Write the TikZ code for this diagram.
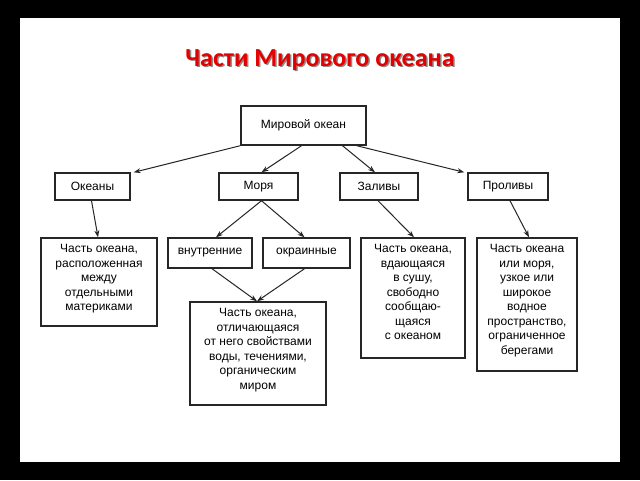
\documentclass[tikz,border=0pt]{standalone}
\usepackage{fontspec}
\setmainfont{Liberation Sans}
\newfontfamily\titlefont{Carlito}
\usetikzlibrary{calc,arrows.meta}
\begin{document}
\begin{tikzpicture}[x=1pt,y=-1pt,
  bx/.style={draw=black!85,line width=1.4pt,fill=white,inner sep=0pt,align=center,
    font=\fontsize{12}{14.5}\selectfont},
  tx/.style={inner sep=0pt,align=center,anchor=north,font=\fontsize{12}{14.5}\selectfont},
  arr/.style={-{Stealth[length=7pt,width=5pt]},line width=1pt,black!85}]
\fill[black] (0,0) rectangle (640,480);
\fill[white] (20,18) rectangle (620,462);
\useasboundingbox (0,0) rectangle (640,480);
\node[text=black!45,font=\titlefont\bfseries\fontsize{26}{30}\selectfont] at (321.5,61.5) {Части Мирового океана};
\node (title) [text=red!90!black,font=\titlefont\bfseries\fontsize{26}{30}\selectfont] at (320,60) {Части Мирового океана};
\newcommand\bxn[6]{\node (#1) [bx,minimum width=#4-#2,minimum height=#5-#3] at ({(#2+#4)/2},{(#3+#5)/2}) {#6};}
\newcommand\bxt[6]{\node (#1) [bx,minimum width=#4-#2,minimum height=#5-#3] at ({(#2+#4)/2},{(#3+#5)/2}) {};
  \node (#1t) [tx] at ($(#1.north)+(0,7)$) {#6};}
\bxn{mo}{241}{106}{366}{145}{Мировой океан}
\bxn{ok}{55}{173}{130}{200}{Океаны}
\bxn{mr}{219}{173}{298}{200}{Моря}
\bxn{za}{340}{173}{418}{200}{Заливы}
\bxn{pr}{468}{173}{548}{200}{Проливы}
\bxt{okd}{41}{238}{157}{326}{Часть океана,\\расположенная\\между\\отдельными\\материками}
\bxn{vn}{168}{238}{252}{268}{внутренние}
\bxn{kr}{263}{238}{350}{268}{окраинные}
\bxt{mrd}{190}{302}{326}{405}{Часть океана,\\отличающаяся\\от него свойствами\\воды, течениями,\\органическим\\миром}
\bxt{zad}{361}{238}{465}{358}{Часть океана,\\вдающаяся\\в сушу,\\свободно\\сообщаю-\\щаяся\\с океаном}
\bxt{prd}{477}{238}{577}{371}{Часть океана\\или моря,\\узкое или\\широкое\\водное\\пространство,\\ограниченное\\берегами}
\draw[arr] (mo.south west) -- ($(ok.north east)+(3,0)$);
\draw[arr] ($(mo.south)+(-2,0)$) -- ($(mr.north)+(3,0)$);
\draw[arr] ($(mo.south)+(39,0)$) -- ($(za.north)+(-4,0)$);
\draw[arr] ($(mo.south east)+(-10,0)$) -- ($(pr.north west)+(-3,0)$);
\draw[arr] ($(ok.south)+(-1,0)$) -- ($(okd.north)+(-1,0)$);
\draw[arr] ($(mr.south)+(3,0)$) -- ($(vn.north)+(6,0)$);
\draw[arr] ($(mr.south)+(3,0)$) -- ($(kr.north)+(-2,0)$);
\draw[arr] ($(za.south)+(-1,0)$) -- ($(zad.north)+(1,0)$);
\draw[arr] ($(pr.south)+(2,0)$) -- ($(prd.north)+(2,0)$);
\draw[arr] ($(vn.south)+(2,0)$) -- ($(mrd.north)+(-1,0)$);
\draw[arr] ($(kr.south)+(-2,0)$) -- ($(mrd.north)+(-1,0)$);
\end{tikzpicture}
\end{document}
